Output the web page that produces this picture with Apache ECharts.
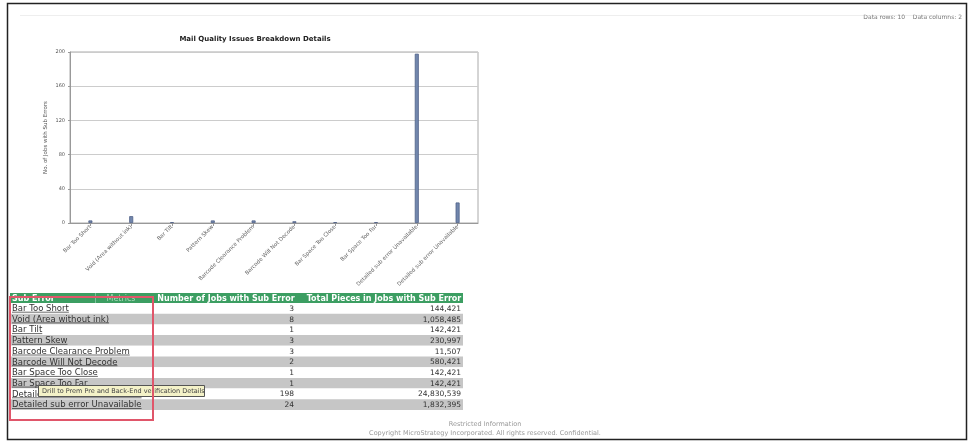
<!DOCTYPE html>
<html>
<head>
<meta charset="utf-8">
<script src="https://cdn.jsdelivr.net/npm/echarts@6/dist/echarts.min.js"></script>
<style>
html,body{margin:0;padding:0;background:#fff;}
#c{width:969px;height:442px;}
</style>
</head>
<body>
<div id="c"></div>
<script>
var categories = ["Bar Too Short","Void (Area without ink)","Bar Tilt","Pattern Skew","Barcode Clearance Problem","Barcode Will Not Decode","Bar Space Too Close","Bar Space Too Far","Detailed sub error Unavailable","Detailed sub error Unavailable"];
var jobsWithSubError = [3, 8, 1, 3, 3, 2, 1, 1, 198, 24];
var totalPieces = ["144,421","1,058,485","142,421","230,997","11,507","580,421","142,421","142,421","24,830,539","1,832,395"];
var yTicks = [0, 40, 80, 120, 160, 200];
var tableHeaders = ["Sub Error","Metrics","Number of Jobs with Sub Error","Total Pieces in Jobs with Sub Error"];

var chart = echarts.init(document.getElementById('c'), null, {renderer:'canvas'});

var g = [];
g.push({type:'rect', shape:{x:7.5,y:3.5,width:959,height:436}, style:{fill:'none', stroke:'#222', lineWidth:1.5}, silent:true});
g.push({type:'line', shape:{x1:20,y1:15.5,x2:950,y2:15.5}, style:{stroke:'#eee', lineWidth:1}});
g.push({type:'text', x:962, y:17, style:{text:'Data rows: 10    Data columns: 2', fill:'#777', font:'6px "DejaVu Sans"', textAlign:'right', textVerticalAlign:'middle'}});

var colX = [10, 95, 147, 305, 463];
var hdrY = 293, hdrH = 10, rowH = 10.7;
var rowFont = '8.5px "DejaVu Sans"';
g.push({type:'rect', shape:{x:colX[0], y:hdrY, width:colX[4]-colX[0], height:hdrH}, style:{fill:'#3c9e62'}});
for (var c = 0; c < 4; c++) {
  var isMetric = c === 1;
  g.push({type:'text',
    x: c === 0 ? colX[0] + 2 : (colX[c] + colX[c+1]) / 2,
    y: hdrY + hdrH / 2 + 0.5,
    style:{text:tableHeaders[c], fill: isMetric ? '#a8d8b8' : '#ffffff', font: (isMetric ? '' : 'bold ') + '8px "DejaVu Sans"', textAlign: c === 0 ? 'left' : 'center', textVerticalAlign:'middle'}});
}
g.push({type:'line', shape:{x1:colX[1]+0.5,y1:hdrY,x2:colX[1]+0.5,y2:hdrY+hdrH}, style:{stroke:'#7cc29a', lineWidth:1}});
var ctx = document.createElement('canvas').getContext('2d');
ctx.font = rowFont;
for (var r = 0; r < categories.length; r++) {
  var y0 = hdrY + hdrH + r * rowH;
  g.push({type:'rect', shape:{x:colX[0], y:y0, width:colX[4]-colX[0], height:rowH}, style:{fill: r % 2 === 1 ? '#c6c6c6' : '#ffffff'}});
  var ty = y0 + rowH / 2 + 0.5;
  g.push({type:'text', x:colX[0] + 2, y:ty, style:{text:categories[r], fill:'#333', font:rowFont, textAlign:'left', textVerticalAlign:'middle'}});
  var w = ctx.measureText(categories[r]).width;
  g.push({type:'line', shape:{x1:colX[0]+2, y1:y0+rowH-1.5, x2:colX[0]+2+w, y2:y0+rowH-1.5}, style:{stroke:'#444', lineWidth:0.8}});
  g.push({type:'text', x:colX[2] + 147, y:ty, style:{text:String(jobsWithSubError[r]), fill:'#333', font:'7.5px "DejaVu Sans"', textAlign:'right', textVerticalAlign:'middle'}});
  g.push({type:'text', x:colX[4] - 2, y:ty, style:{text:totalPieces[r], fill:'#333', font:'7.5px "DejaVu Sans"', textAlign:'right', textVerticalAlign:'middle'}});
}
g.push({type:'rect', shape:{x:38.5, y:385.5, width:166, height:11}, style:{fill:'#f4f2c8', stroke:'#555', lineWidth:1}});
g.push({type:'text', x:42, y:391.5, style:{text:'Drill to Prem Pre and Back-End verification Details', fill:'#444', font:'6.5px "DejaVu Sans"', textAlign:'left', textVerticalAlign:'middle'}});
g.push({type:'rect', shape:{x:10, y:297, width:143, height:123}, style:{fill:'none', stroke:'#e0566a', lineWidth:2}});
g.push({type:'text', x:485, y:424, style:{text:'Restricted Information', fill:'#999', font:'6.5px "DejaVu Sans"', textAlign:'center', textVerticalAlign:'middle'}});
g.push({type:'text', x:485, y:433, style:{text:'Copyright MicroStrategy Incorporated. All rights reserved. Confidential.', fill:'#999', font:'6.5px "DejaVu Sans"', textAlign:'center', textVerticalAlign:'middle'}});

chart.setOption({
  animation:false,
  backgroundColor:'#fff',
  title:{text:'Mail Quality Issues Breakdown Details', left:250, top:31, textAlign:'center',
    textStyle:{fontSize:7, fontWeight:'bold', color:'#222', fontFamily:'DejaVu Sans'}},
  grid:{left:70, right:491, top:52, bottom:219, show:true, borderColor:'#aaa', borderWidth:1, containLabel:false},
  xAxis:{type:'category', data:categories,
    axisLine:{lineStyle:{color:'#999'}}, axisTick:{show:true, alignWithLabel:true, length:3, lineStyle:{color:'#999'}},
    axisLabel:{interval:0, rotate:45, fontSize:5.5, color:'#666', fontFamily:'DejaVu Sans', margin:3}},
  yAxis:{type:'value', min:yTicks[0], max:yTicks[yTicks.length-1], interval:yTicks[1]-yTicks[0],
    name:'No. of Jobs with Sub Errors', nameLocation:'middle', nameGap:21, nameRotate:90,
    nameTextStyle:{fontSize:5.5, color:'#555', fontFamily:'DejaVu Sans'},
    axisLine:{show:true, lineStyle:{color:'#999'}}, axisTick:{show:true, length:2, lineStyle:{color:'#999'}},
    axisLabel:{fontSize:5, color:'#555', fontFamily:'DejaVu Sans', margin:5},
    splitLine:{lineStyle:{color:'#ccc'}}},
  series:[{type:'bar', data:jobsWithSubError, barWidth:4,
    itemStyle:{color:'#7287ad', borderColor:'#4f6188', borderWidth:0.8}}],
  graphic:g
});
</script>
</body>
</html>
